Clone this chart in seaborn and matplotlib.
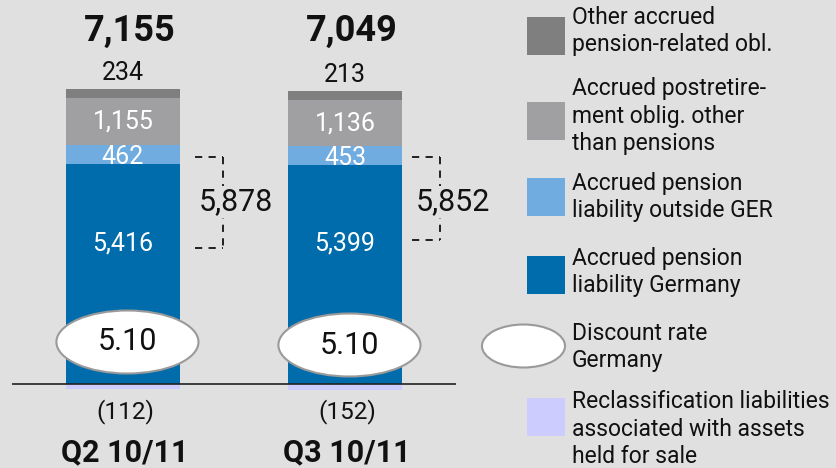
import numpy as np
import matplotlib
matplotlib.use("Agg")
import matplotlib.pyplot as plt
import seaborn as sns
from matplotlib.patches import Ellipse, Rectangle
from matplotlib.lines import Line2D

# ---- data (EUR m) ----
quarters = ["Q2 10/11", "Q3 10/11"]
germany = [5416, 5399]
outside_ger = [462, 453]
postretirement = [1155, 1136]
other_obl = [234, 213]
reclassification = [-112, -152]
discount_rate = ["5.10", "5.10"]
pension_subtotal = [5878, 5852]
totals = [7155, 7049]

legend_labels = [
    "Other accrued\npension-related obl.",
    "Accrued postretire-\nment oblig. other\nthan pensions",
    "Accrued pension\nliability outside GER",
    "Accrued pension\nliability Germany",
    "Discount rate\nGermany",
    "Reclassification liabilities\nassociated with assets\nheld for sale",
]

# ---- style ----
BG = "#E0E0E0"
C_GER = "#006CAB"
C_OUT = "#70ACE0"
C_POST = "#A0A0A2"
C_OTHER = "#7F7F7F"
C_RECL = "#CCCCFF"
INK = "#111111"

W, H = 837, 468
S = 24.6  # value units per pixel on the y axis

sns.set_theme(style="white")
plt.rcParams["font.family"] = ["Roboto", "DejaVu Sans"]


def fx(px):
    return px / W


def fy(py):
    return 1 - py / H


fig = plt.figure(figsize=(W / 100, H / 100), dpi=100, facecolor=BG)
ax = fig.add_axes([12 / W, 0, 444 / W, 1])
ax.set_facecolor(BG)

BAR_W = 0.51
layers = [
    (germany, C_GER),
    (outside_ger, C_OUT),
    (postretirement, C_POST),
    (other_obl, C_OTHER),
]
base = np.zeros(len(quarters))
bottoms = []
for vals, col in layers:
    bottoms.append(base.copy())
    sns.barplot(x=quarters, y=vals, bottom=base.copy(), color=col, width=BAR_W,
                errorbar=None, saturation=1, linewidth=0, ax=ax)
    base += np.array(vals)
tops = base.copy()
sns.barplot(x=quarters, y=reclassification, color=C_RECL, width=BAR_W,
            errorbar=None, saturation=1, linewidth=0, ax=ax)

ax.set_xlim(-0.5, 1.5)
ax.set_ylim(-84 * S, 384 * S)
ax.axis("off")
ax.axhline(0, color="#222222", lw=1.2, zorder=5)

for i in range(len(quarters)):
    # segment values
    ax.text(i, germany[i] * 0.64, f"{germany[i]:,}", ha="center", va="center",
            color="white", fontsize=18)
    b = bottoms[1][i]
    ax.text(i, b + outside_ger[i] / 2 - 60, f"{outside_ger[i]:,}", ha="center",
            va="center", color="white", fontsize=18)
    b = bottoms[2][i]
    ax.text(i, b + postretirement[i] / 2, f"{postretirement[i]:,}", ha="center",
            va="center", color="white", fontsize=18)
    ax.text(i, tops[i] + 16 * S, f"{other_obl[i]:,}", ha="center", va="center",
            color=INK, fontsize=18)
    # total
    ax.text(i + 0.03, 353 * S, f"{totals[i]:,}", ha="center", va="center",
            color=INK, fontsize=26, fontweight="bold")
    # reclassification
    ax.text(i + 0.01, -28 * S, f"({-reclassification[i]:,})", ha="center",
            va="center", color=INK, fontsize=17.5)
    # category
    ax.text(i + 0.01, -68 * S, quarters[i], ha="center", va="center",
            color=INK, fontsize=22, fontweight="bold")
    # discount rate ellipse
    ey = (42 - 3 * i) * S
    ax.add_patch(Ellipse((i + 0.02, ey), 0.64, 63 * S, facecolor="white",
                         edgecolor="#9A9A9A", lw=1.5, zorder=6))
    ax.text(i + 0.02, ey, discount_rate[i], ha="center", va="center",
            color=INK, fontsize=22, zorder=7)

# brackets around the German + foreign pension subtotal
brackets = [(195, 223, 157, 248, 236), (412, 440, 157, 240, 453)]
for (x0, x1, y0, y1, lx), val in zip(brackets, pension_subtotal):
    kw = dict(transform=fig.transFigure, color=INK, lw=1.3,
              linestyle=(0, (4, 3.5)))
    fig.add_artist(Line2D([fx(x0), fx(x1)], [fy(y0), fy(y0)], **kw))
    fig.add_artist(Line2D([fx(x0), fx(x1)], [fy(y1), fy(y1)], **kw))
    fig.add_artist(Line2D([fx(x1), fx(x1)], [fy(y0), fy(y1)], **kw))
    fig.text(fx(lx), fy(202), f"{val:,}", ha="center", va="center",
             color=INK, fontsize=22,
             bbox=dict(facecolor=BG, edgecolor="none", pad=1))

# legend
leg_colors = [C_OTHER, C_POST, C_OUT, C_GER, None, C_RECL]
patch_y = [36, 121, 197, 275, 346, 417]
text_y = [31, 116, 197, 272, 347, 429]
for col, py, ty, lab in zip(leg_colors, patch_y, text_y, legend_labels):
    if col is None:
        fig.add_artist(Ellipse((fx(523.5), fy(py)), 83 / W, 43 / H,
                               transform=fig.transFigure, facecolor="white",
                               edgecolor="#9A9A9A", lw=1.5))
    else:
        fig.add_artist(Rectangle((fx(527), fy(py + 19)), 38 / W, 38 / H,
                                 transform=fig.transFigure, facecolor=col,
                                 edgecolor="none"))
    fig.text(fx(572), fy(ty), lab, ha="left", va="center", color=INK,
             fontsize=16.5, linespacing=1.25)

fig.savefig("out.png", dpi=100, facecolor=BG)
